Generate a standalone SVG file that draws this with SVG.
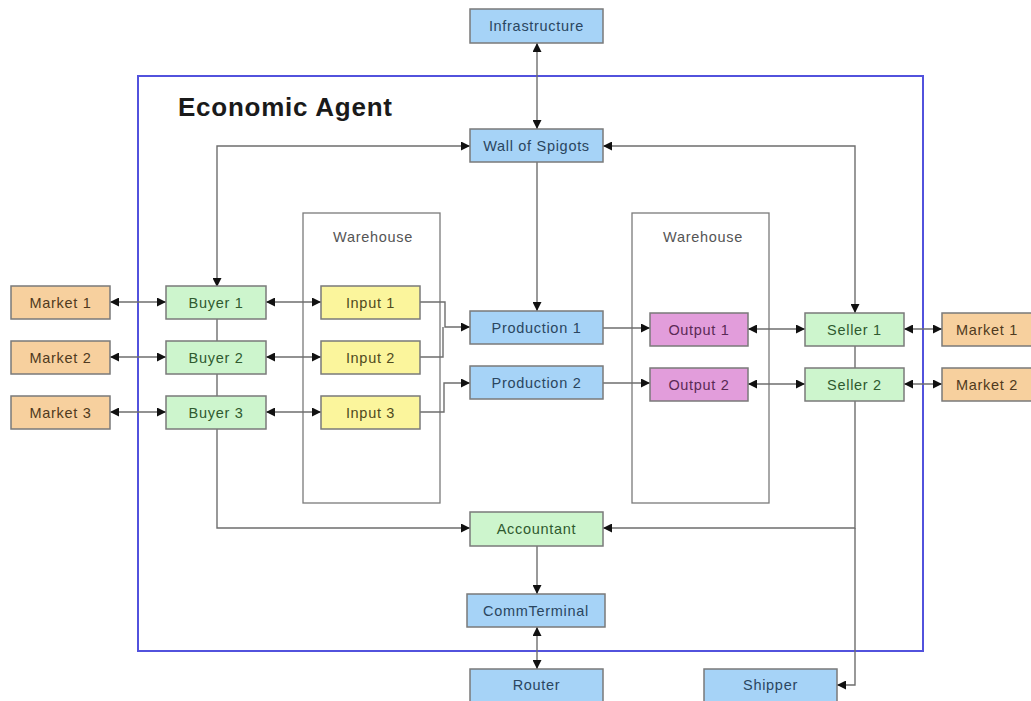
<svg xmlns="http://www.w3.org/2000/svg" width="1031" height="701" viewBox="0 0 1031 701">
<defs>
<marker id="ah" viewBox="0 0 10 10" refX="10" refY="5" markerWidth="9" markerHeight="9" markerUnits="userSpaceOnUse" orient="auto-start-reverse">
<path d="M0,0 L10,5 L0,10 z" fill="#111"/>
</marker>
<style>
.n{stroke:#7a7a7a;stroke-width:1.5}
.blue{fill:#a6d3f7}
.green{fill:#cdf5cd}
.yellow{fill:#fbf59c}
.pink{fill:#e29ddb}
.orange{fill:#f7d09e}
.t{font-family:"Liberation Sans",Arial,sans-serif;font-size:14.5px;letter-spacing:0.7px;text-anchor:middle;dominant-baseline:central}
.tb{fill:#2a4660}
.tg{fill:#2f5a2f}
.ty{fill:#4f4a20}
.tp{fill:#5a2a55}
.to{fill:#4f3a20}
.c{fill:none;stroke:#6e6e6e;stroke-width:1.4}
.a{marker-end:url(#ah)}
.aa{marker-end:url(#ah);marker-start:url(#ah)}
.wh{fill:#fff;stroke:#7a7a7a;stroke-width:1.3}
</style>
</defs>
<rect width="1031" height="701" fill="#fff"/>
<g id="economic-agent">
<rect x="138" y="76" width="785" height="575" fill="none" stroke="#5252dd" stroke-width="2"/>
<text x="178" y="116" font-family="Liberation Sans,Arial,sans-serif" font-size="26" font-weight="bold" fill="#1a1a1a" textLength="214" lengthAdjust="spacing">Economic Agent</text>
</g>
<g id="warehouse-in">
<rect class="wh" x="303" y="213" width="137" height="290"/>
<text class="t" x="373" y="237" fill="#555">Warehouse</text>
</g>
<g id="warehouse-out">
<rect class="wh" x="632" y="213" width="137" height="290"/>
<text class="t" x="703" y="237" fill="#555">Warehouse</text>
</g>
<g id="connectors">
<path class="c aa" d="M537,43 V129"/>
<path class="c aa" d="M217,287 V146 H470"/>
<path class="c aa" d="M603,146 H855 V313"/>
<path class="c a" d="M537,162 V311"/>
<path class="c aa" d="M110,302 H166"/>
<path class="c aa" d="M110,357 H166"/>
<path class="c aa" d="M110,412 H166"/>
<path class="c aa" d="M266,302 H321"/>
<path class="c aa" d="M266,357 H321"/>
<path class="c aa" d="M266,412 H321"/>
<path class="c" d="M217,319 V341 M217,374 V396"/>
<path class="c a" d="M217,429 V528 H470"/>
<path class="c a" d="M420,302 H445 V327 H470"/>
<path class="c" d="M420,357 H443 V327"/>
<path class="c a" d="M420,412 H444 V383 H470"/>
<path class="c a" d="M603,328 H650"/>
<path class="c a" d="M603,383 H650"/>
<path class="c aa" d="M748,329 H805"/>
<path class="c aa" d="M748,384 H805"/>
<path class="c aa" d="M904,329 H942"/>
<path class="c aa" d="M904,384 H942"/>
<path class="c" d="M855,346 V368"/>
<path class="c a" d="M855,401 V528 H603"/>
<path class="c a" d="M855,528 V685 H837"/>
<path class="c a" d="M537,546 V594"/>
<path class="c aa" d="M537,627 V669"/>
</g>
<g id="infrastructure"><rect class="n blue" x="470" y="9" width="133" height="34"/><text class="t tb" x="536.5" y="26">Infrastructure</text></g>
<g id="wall-of-spigots"><rect class="n blue" x="470" y="129" width="133" height="33"/><text class="t tb" x="536.5" y="145.5">Wall of Spigots</text></g>
<g id="market-l1"><rect class="n orange" x="11" y="286" width="99" height="33"/><text class="t to" x="60.5" y="302.5">Market 1</text></g>
<g id="market-l2"><rect class="n orange" x="11" y="341" width="99" height="33"/><text class="t to" x="60.5" y="357.5">Market 2</text></g>
<g id="market-l3"><rect class="n orange" x="11" y="396" width="99" height="33"/><text class="t to" x="60.5" y="412.5">Market 3</text></g>
<g id="buyer-1"><rect class="n green" x="166" y="286" width="100" height="33"/><text class="t tg" x="216" y="302.5">Buyer 1</text></g>
<g id="buyer-2"><rect class="n green" x="166" y="341" width="100" height="33"/><text class="t tg" x="216" y="357.5">Buyer 2</text></g>
<g id="buyer-3"><rect class="n green" x="166" y="396" width="100" height="33"/><text class="t tg" x="216" y="412.5">Buyer 3</text></g>
<g id="input-1"><rect class="n yellow" x="321" y="286" width="99" height="33"/><text class="t ty" x="370.5" y="302.5">Input 1</text></g>
<g id="input-2"><rect class="n yellow" x="321" y="341" width="99" height="33"/><text class="t ty" x="370.5" y="357.5">Input 2</text></g>
<g id="input-3"><rect class="n yellow" x="321" y="396" width="99" height="33"/><text class="t ty" x="370.5" y="412.5">Input 3</text></g>
<g id="production-1"><rect class="n blue" x="470" y="311" width="133" height="33"/><text class="t tb" x="536.5" y="327.5">Production 1</text></g>
<g id="production-2"><rect class="n blue" x="470" y="366" width="133" height="33"/><text class="t tb" x="536.5" y="382.5">Production 2</text></g>
<g id="output-1"><rect class="n pink" x="650" y="313" width="98" height="33"/><text class="t tp" x="699" y="329.5">Output 1</text></g>
<g id="output-2"><rect class="n pink" x="650" y="368" width="98" height="33"/><text class="t tp" x="699" y="384.5">Output 2</text></g>
<g id="seller-1"><rect class="n green" x="805" y="313" width="99" height="33"/><text class="t tg" x="854.5" y="329.5">Seller 1</text></g>
<g id="seller-2"><rect class="n green" x="805" y="368" width="99" height="33"/><text class="t tg" x="854.5" y="384.5">Seller 2</text></g>
<g id="market-r1"><rect class="n orange" x="942" y="313" width="95" height="33"/><text class="t to" x="987" y="329.5">Market 1</text></g>
<g id="market-r2"><rect class="n orange" x="942" y="368" width="95" height="33"/><text class="t to" x="987" y="384.5">Market 2</text></g>
<g id="accountant"><rect class="n green" x="470" y="512" width="133" height="34"/><text class="t tg" x="536.5" y="529">Accountant</text></g>
<g id="commterminal"><rect class="n blue" x="467" y="594" width="138" height="33"/><text class="t tb" x="536" y="610.5">CommTerminal</text></g>
<g id="router"><rect class="n blue" x="470" y="669" width="133" height="36"/><text class="t tb" x="536.5" y="685">Router</text></g>
<g id="shipper"><rect class="n blue" x="704" y="669" width="133" height="36"/><text class="t tb" x="770.5" y="685">Shipper</text></g>
</svg>
